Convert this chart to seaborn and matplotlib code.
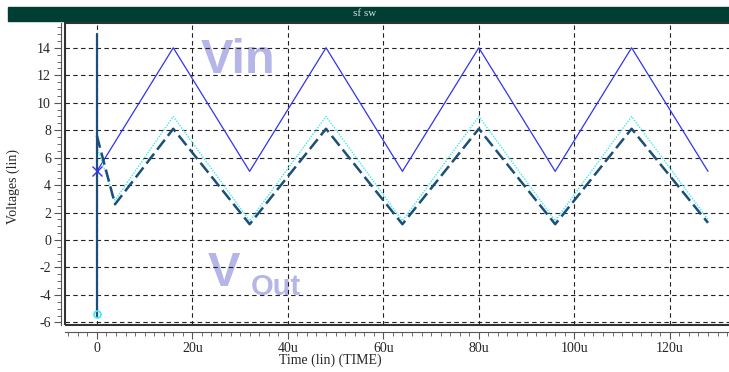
import matplotlib
matplotlib.use("Agg")
import matplotlib.pyplot as plt
from matplotlib.patches import Rectangle
from matplotlib.ticker import MultipleLocator
import seaborn as sns

# waveform data (time in us, volts)
t_vin = [0, 16, 32, 48, 64, 80, 96, 112, 128]
v_vin = [5, 14, 5, 14, 5, 14, 5, 14, 5]

t_out = [0, 3.8, 16, 32, 48, 64, 80, 96, 112, 128]
v_out = [7.6, 2.6, 8.1, 1.15, 8.1, 1.15, 8.1, 1.15, 8.1, 1.25]
v_out_c = [6.8, 2.9, 9.0, 1.4, 9.0, 1.4, 9.0, 1.4, 9.0, 1.5]

# startup spike at t=0
t_spike = [0, 0]
v_spike = [15.0, -5.5]

x_ticks = [0, 20, 40, 60, 80, 100, 120]
x_labels = ["0", "20u", "40u", "60u", "80u", "100u", "120u"]
y_ticks = [-6, -4, -2, 0, 2, 4, 6, 8, 10, 12, 14]

sns.set_style("white")
plt.rcParams["font.family"] = ["Liberation Serif", "DejaVu Serif"]
plt.rcParams["axes.unicode_minus"] = False

fig = plt.figure(figsize=(7.29, 3.72), dpi=100)
ax = fig.add_axes([0.089, 0.126, 0.911, 0.812])

# title bar
fig.patches.append(Rectangle((8 / 729, 1 - 21 / 372), 721 / 729, 14 / 372,
                             transform=fig.transFigure, color="#003d32", zorder=0))
fig.text(0.5, 1 - 14 / 372, "sf sw", color="#d8e4e0", fontsize=8,
         ha="center", va="center")

# watermarks
wm = dict(transform=ax.transAxes, fontweight="bold", color="#b5b5e8",
          family="Liberation Sans", ha="left", va="center", zorder=0)
ax.text(0.205, 0.875, "Vin", fontsize=35, **wm)
ax.text(0.215, 0.17, "V", fontsize=35, **wm)
ax.text(0.28, 0.125, "Out", fontsize=21, **wm)

sns.lineplot(x=t_vin, y=v_vin, ax=ax, color="#3333ee", lw=0.9, sort=False, estimator=None)
sns.lineplot(x=t_out, y=v_out_c, ax=ax, color="#44e6f0", lw=1.0, ls=(0, (1, 1)),
             sort=False, estimator=None)
sns.lineplot(x=t_out, y=v_out, ax=ax, color="#1b4f7a", lw=1.8, ls=(0, (5, 2)),
             sort=False, estimator=None)
sns.lineplot(x=t_spike, y=v_spike, ax=ax, color="#1b4f7a", lw=1.6, sort=False, estimator=None)
ax.plot([0], [5], marker="x", color="#3333ee", ms=7, mew=1)
ax.plot([0], [-5.4], marker="o", color="#44e6f0", ms=5, mfc="none", mew=1.2)

ax.set_xlim(-6.7, 132.4)
ax.set_ylim(-6.2, 15.8)
ax.set_xticks(x_ticks)
ax.set_xticklabels(x_labels)
ax.set_yticks(y_ticks)
ax.xaxis.set_minor_locator(MultipleLocator(2))
ax.yaxis.set_minor_locator(MultipleLocator(0.5))
ax.grid(True, which="major", color="#222222", ls=(0, (4, 3)), lw=0.8)

for s in ["top", "right"]:
    ax.spines[s].set_visible(False)
ax.spines["bottom"].set_position(("outward", 5))
ax.spines["left"].set_position(("outward", 3))
ax.spines["bottom"].set_color("#555555")
ax.spines["left"].set_color("#555555")
ax.add_patch(Rectangle((0, 0), 1.2, 1, transform=ax.transAxes, fill=False,
                       ec="#333333", lw=1.5, zorder=5, clip_on=False))
ax.tick_params(axis="both", which="both", direction="out", color="#555555",
               labelsize=10, bottom=True, left=True)
ax.tick_params(which="major", length=5, pad=2)
ax.tick_params(which="minor", length=3)

ax.set_xlabel("Time (lin) (TIME)", fontsize=10)
ax.set_ylabel("Voltages (lin)", fontsize=10)
ax.xaxis.set_label_coords(0.40, -0.095)
ax.yaxis.set_label_coords(-0.068, 0.46)

fig.savefig("out.png", dpi=100)
